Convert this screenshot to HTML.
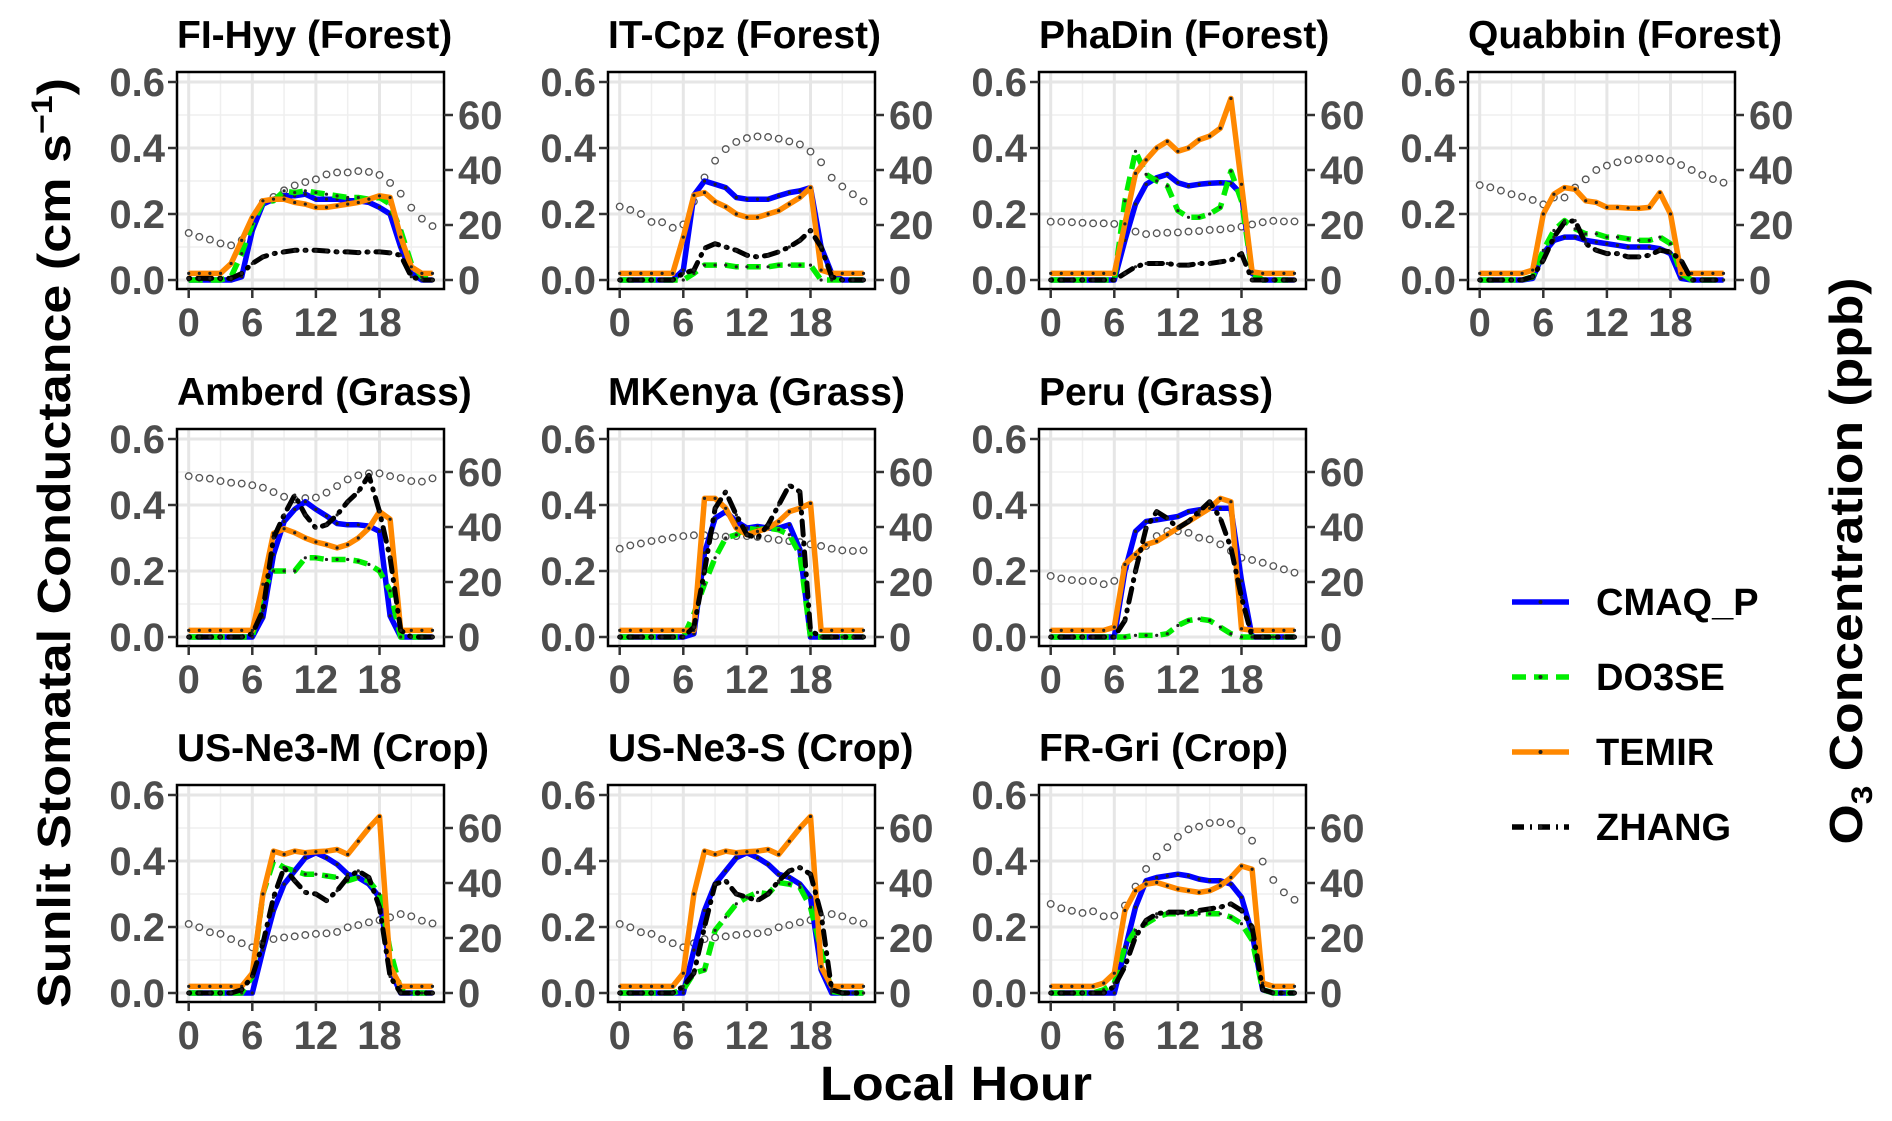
<!DOCTYPE html>
<html><head><meta charset="utf-8"><style>
html,body{margin:0;padding:0;background:#fff;}
svg{display:block;font-family:"Liberation Sans",Arial,sans-serif;}
</style></head><body>
<svg id="chart" width="1892" height="1121" viewBox="0 0 1892 1121" xmlns="http://www.w3.org/2000/svg">
<text transform="translate(70,543) rotate(-90)" text-anchor="middle" font-size="46" font-weight="bold" fill="#000" textLength="930" lengthAdjust="spacingAndGlyphs">Sunlit Stomatal Conductance (cm s<tspan dy="-18" font-size="30">−1</tspan><tspan dy="18">)</tspan></text>
<text transform="translate(1862,561) rotate(-90)" text-anchor="middle" font-size="46" font-weight="bold" fill="#000" textLength="567" lengthAdjust="spacingAndGlyphs">O<tspan dy="10" font-size="30">3</tspan><tspan dy="-10"> Concentration (ppb)</tspan></text>
<text x="956" y="1100" text-anchor="middle" font-size="48" font-weight="bold" fill="#000" textLength="272" lengthAdjust="spacingAndGlyphs">Local Hour</text>
</svg>
<script>
const panelTitles=["FI-Hyy (Forest)","IT-Cpz (Forest)","PhaDin (Forest)","Quabbin (Forest)","Amberd (Grass)","MKenya (Grass)","Peru (Grass)","US-Ne3-M (Crop)","US-Ne3-S (Crop)","FR-Gri (Crop)"];
const hours=[0,1,2,3,4,5,6,7,8,9,10,11,12,13,14,15,16,17,18,19,20,21,22,23];
const yTicks=[0,0.2,0.4,0.6];
const yTickLabels=["0.0","0.2","0.4","0.6"];
const y2Ticks=[0,20,40,60];
const xTicks=[0,6,12,18];
const seriesNames=["CMAQ_P","DO3SE","TEMIR","ZHANG"];
const cmaq=[
[0,0,0,0,0,0.01,0.15,0.23,0.245,0.255,0.255,0.26,0.245,0.245,0.245,0.24,0.24,0.235,0.22,0.2,0.1,0.02,0,0],
[0,0,0,0,0,0,0.03,0.257,0.3,0.29,0.28,0.25,0.245,0.245,0.245,0.255,0.265,0.27,0.28,0.1,0.02,0,0,0],
[0,0,0,0,0,0,0,0.12,0.23,0.29,0.31,0.32,0.295,0.285,0.29,0.293,0.295,0.293,0.26,0.02,0,0,0,0],
[0,0,0,0,0,0.005,0.08,0.12,0.13,0.13,0.12,0.115,0.11,0.105,0.1,0.1,0.1,0.095,0.08,0.005,0,0,0,0],
[0,0,0,0,0,0,0,0.06,0.25,0.35,0.387,0.41,0.387,0.367,0.344,0.34,0.34,0.336,0.32,0.064,0,0,0,0],
[0,0,0,0,0,0,0,0.01,0.255,0.36,0.38,0.35,0.33,0.335,0.33,0.33,0.34,0.265,0,0,0,0,0,0],
[0,0,0,0,0,0,0,0.2,0.32,0.35,0.355,0.36,0.365,0.38,0.385,0.39,0.39,0.39,0.17,0,0,0,0,0],
[0,0,0,0,0,0,0,0.13,0.25,0.33,0.37,0.41,0.425,0.41,0.39,0.36,0.35,0.33,0.29,0.07,0,0,0,0],
[0,0,0,0,0,0,0,0.13,0.25,0.33,0.37,0.41,0.425,0.41,0.39,0.36,0.35,0.33,0.29,0.07,0,0,0,0],
[0,0,0,0,0,0,0,0.13,0.26,0.34,0.35,0.355,0.36,0.355,0.345,0.34,0.34,0.33,0.29,0.18,0.01,0,0,0]];
const do3se=[
[0,0,0,0,0.01,0.08,0.17,0.235,0.24,0.27,0.265,0.27,0.265,0.26,0.255,0.25,0.25,0.245,0.25,0.23,0.15,0.05,0.01,0],
[0,0,0,0,0,0,0,0.02,0.045,0.045,0.045,0.04,0.04,0.04,0.04,0.045,0.045,0.045,0.045,0,0,0,0,0],
[0,0,0,0,0,0,0,0.24,0.39,0.32,0.3,0.285,0.21,0.19,0.19,0.2,0.22,0.33,0.24,0.02,0,0,0,0],
[0,0,0,0,0,0.01,0.09,0.15,0.18,0.155,0.14,0.14,0.13,0.13,0.125,0.12,0.12,0.13,0.11,0.02,0,0,0,0],
[0,0,0,0,0,0,0,0.14,0.2,0.2,0.2,0.24,0.24,0.235,0.235,0.235,0.23,0.22,0.2,0.14,0,0,0,0],
[0,0,0,0,0,0,0,0.07,0.16,0.24,0.3,0.31,0.33,0.325,0.33,0.325,0.31,0.25,0,0,0,0,0,0],
[0,0,0,0,0,0,0,0,0.005,0.005,0.005,0.01,0.035,0.05,0.055,0.05,0.03,0.01,0,0,0,0,0,0],
[0,0,0,0,0,0,0.05,0.3,0.4,0.38,0.37,0.36,0.36,0.355,0.35,0.34,0.35,0.34,0.3,0.13,0.01,0,0,0],
[0,0,0,0,0,0,0.01,0.06,0.07,0.19,0.23,0.27,0.29,0.305,0.3,0.335,0.33,0.32,0.26,0.13,0.005,0,0,0],
[0,0,0,0,0,0.01,0.03,0.14,0.19,0.21,0.23,0.24,0.24,0.24,0.24,0.24,0.24,0.23,0.21,0.16,0.01,0,0,0]];
const temir=[
[0.02,0.02,0.02,0.02,0.05,0.12,0.19,0.24,0.245,0.245,0.235,0.23,0.22,0.22,0.225,0.23,0.235,0.245,0.255,0.25,0.13,0.04,0.02,0.02],
[0.02,0.02,0.02,0.02,0.02,0.02,0.13,0.257,0.265,0.237,0.222,0.2,0.19,0.19,0.2,0.21,0.23,0.25,0.28,0.03,0.02,0.02,0.02,0.02],
[0.02,0.02,0.02,0.02,0.02,0.02,0.02,0.17,0.323,0.364,0.4,0.42,0.39,0.4,0.425,0.436,0.46,0.55,0.29,0.025,0.02,0.02,0.02,0.02],
[0.02,0.02,0.02,0.02,0.02,0.03,0.2,0.26,0.28,0.275,0.24,0.235,0.22,0.22,0.218,0.217,0.22,0.265,0.2,0.02,0.02,0.02,0.02,0.02],
[0.02,0.02,0.02,0.02,0.02,0.02,0.02,0.16,0.314,0.328,0.316,0.3,0.288,0.28,0.27,0.28,0.3,0.33,0.38,0.357,0.02,0.02,0.02,0.02],
[0.02,0.02,0.02,0.02,0.02,0.02,0.02,0.02,0.42,0.42,0.39,0.33,0.31,0.32,0.33,0.35,0.38,0.39,0.405,0.02,0.02,0.02,0.02,0.02],
[0.02,0.02,0.02,0.02,0.02,0.02,0.03,0.22,0.25,0.28,0.29,0.31,0.33,0.35,0.37,0.39,0.42,0.41,0.025,0.02,0.02,0.02,0.02,0.02],
[0.02,0.02,0.02,0.02,0.02,0.02,0.06,0.3,0.43,0.42,0.43,0.425,0.428,0.43,0.435,0.42,0.46,0.5,0.535,0.08,0.02,0.02,0.02,0.02],
[0.02,0.02,0.02,0.02,0.02,0.02,0.06,0.3,0.43,0.42,0.43,0.425,0.428,0.43,0.435,0.42,0.46,0.5,0.535,0.08,0.02,0.02,0.02,0.02],
[0.02,0.02,0.02,0.02,0.02,0.03,0.06,0.25,0.31,0.33,0.335,0.325,0.315,0.31,0.305,0.31,0.325,0.35,0.385,0.375,0.03,0.02,0.02,0.02]];
const zhang=[
[0.005,0.005,0.005,0.005,0.005,0.02,0.05,0.07,0.08,0.085,0.09,0.09,0.09,0.088,0.085,0.085,0.083,0.085,0.085,0.082,0.075,0.01,0,0],
[0,0,0,0,0,0,0.02,0.03,0.096,0.11,0.1,0.09,0.075,0.07,0.075,0.085,0.1,0.12,0.15,0.1,0.01,0,0,0],
[0,0,0,0,0,0,0,0.02,0.04,0.05,0.05,0.05,0.045,0.045,0.05,0.05,0.055,0.06,0.08,0,0,0,0,0],
[0,0,0,0,0,0.01,0.06,0.13,0.175,0.18,0.11,0.09,0.08,0.08,0.07,0.07,0.075,0.09,0.085,0.06,0,0,0,0],
[0,0,0,0,0,0,0.01,0.08,0.3,0.37,0.43,0.37,0.33,0.34,0.37,0.41,0.44,0.49,0.38,0.24,0.02,0,0,0],
[0,0,0,0,0,0,0,0.03,0.2,0.39,0.44,0.37,0.31,0.3,0.34,0.4,0.46,0.44,0.02,0,0,0,0,0],
[0,0,0,0,0,0,0,0.05,0.2,0.33,0.38,0.36,0.33,0.35,0.38,0.41,0.36,0.27,0.12,0,0,0,0,0],
[0,0,0,0,0,0.01,0.05,0.15,0.29,0.38,0.34,0.305,0.3,0.28,0.31,0.35,0.37,0.35,0.26,0.05,0,0,0,0],
[0,0,0,0,0,0,0.02,0.06,0.2,0.33,0.34,0.3,0.29,0.28,0.3,0.34,0.37,0.38,0.36,0.24,0.01,0,0,0],
[0,0,0,0,0,0,0.02,0.08,0.17,0.22,0.24,0.245,0.245,0.245,0.25,0.255,0.26,0.27,0.25,0.2,0.01,0,0,0]];
const o3=[
[17.1,15.7,14.7,13.3,12.6,14.5,20.3,28.4,30.2,32.6,34.4,35.6,36.6,38.4,39.1,39.1,39.6,39.3,38.2,35.3,31.4,26.3,22.3,19.6],
[26.7,25.5,24,21.1,21,19,20.2,28.5,37.3,43.4,47.6,50.2,51.6,52.2,52,51.4,50.4,49.3,46.7,42.8,37.2,34,31.2,28.6],
[21.2,21.2,21,20.8,20.6,20.6,20.4,19.4,17.6,16.7,17,17.2,17.3,17.6,17.8,18.2,18.4,18.8,19.4,20.2,21,21.5,21.3,21.3],
[34.5,33.7,32.5,31.2,30.3,29.1,27.5,30,30,33.6,36.6,40,41.6,42.8,43.6,44,44.2,44,43.3,41.8,40,38.2,36.7,35.4],
[58.5,57.9,57.6,56.7,56.1,55.8,55.2,54.3,52.7,51,50,50.5,50.7,52.5,54.9,57.3,58.8,59.5,59.5,58.5,57.8,56.7,56.5,57.7],
[32.1,33.3,34,34.9,35.5,36.1,36.7,37,37,36.7,36.5,36.7,36.7,36.4,35.8,35.3,34.9,34.5,33.7,33.1,32.1,31.5,31.3,31.5],
[22.2,21.3,20.7,20.4,20.4,19.2,20.4,25.2,29.5,33.1,36.7,38.5,38.5,37.9,36.1,35.5,33.7,31.3,28.8,28,27,25.8,24.6,23.4],
[25.1,23.9,22.1,21.5,19.6,18.1,16.6,18.1,19.6,20.2,20.6,21.1,21.5,21.7,22.2,23.9,24.7,25.7,26.5,27.5,28.7,27.9,26.3,25.3],
[25.1,23.9,22.1,21.5,19.6,18.1,16.6,18.1,19.6,20.2,20.6,21.1,21.5,21.7,22.2,23.9,24.7,25.7,26.5,27.5,28.7,27.9,26.3,25.3],
[32.4,30.8,29.9,29.1,29.7,27.9,28.1,31.8,38.7,45.1,49.6,53,56.8,59.5,60.5,61.8,62.1,61.5,59,55.4,47.8,41.1,36.6,33.9]];

const NS="http://www.w3.org/2000/svg";
const svg=document.getElementById('chart');
const colLeft=[177,608,1039,1468], rowTop=[72,429,785];
const PW=267, PH=217;
const styles=[
 {c:"#0000ff",d:null},
 {c:"#00ee00",d:"14 8"},
 {c:"#ff8800",d:null},
 {c:"#000000",d:"1 8 14 8"}];
const seriesData=[cmaq,do3se,temir,zhang];
function mk(tag,attrs,parent){const e=document.createElementNS(NS,tag);for(const k in attrs)e.setAttribute(k,attrs[k]);(parent||svg).appendChild(e);return e;}

panelTitles.forEach((title,p)=>{
 const L=colLeft[p<4?p:(p<7?p-4:p-7)], T=rowTop[p<4?0:(p<7?1:2)];
 const xs=h=>L+11.7+h*10.6;
 const y0=T+208;
 const ys=v=>y0-v*330;
 const ys2=v=>y0-(v/120)*330;
 const g=mk('g',{});
 
 
 const t=mk('text',{x:L,y:T-24,'font-size':39,'font-weight':'bold',fill:'#000'},g);
 
 
 t.textContent=title;
 mk('rect',{x:L,y:T,width:PW,height:PH,fill:'#fff'},g);
 [0.1,0.3,0.5].forEach(v=>mk('line',{x1:L,x2:L+PW,y1:ys(v),y2:ys(v),stroke:'#efefef','stroke-width':1.5},g));
 [3,9,15,21].forEach(h=>mk('line',{x1:xs(h),x2:xs(h),y1:T,y2:T+PH,stroke:'#efefef','stroke-width':1.5},g));
 yTicks.forEach(v=>mk('line',{x1:L,x2:L+PW,y1:ys(v),y2:ys(v),stroke:'#e6e6e6','stroke-width':3},g));
 xTicks.forEach(h=>mk('line',{x1:xs(h),x2:xs(h),y1:T,y2:T+PH,stroke:'#e6e6e6','stroke-width':3},g));
 o3[p].forEach((v,i)=>{const c=mk('circle',{cx:xs(hours[i]),cy:ys2(v),r:3.3,fill:'#fff',stroke:'#555','stroke-width':1.3},g);
  
  });
 seriesData.forEach((arr,s)=>{
  const pts=arr[p].map((v,i)=>xs(hours[i]).toFixed(1)+','+ys(v).toFixed(1)).join(' ');
  const a={points:pts,fill:'none',stroke:styles[s].c,'stroke-width':5.5,'stroke-linejoin':'round'};
  if(styles[s].d){a['stroke-dasharray']=styles[s].d;}
  if(s===3){a['stroke-linecap']='round';a['stroke-width']=5;}
  const pl=mk('polyline',a,g);
  
  
  arr[p].forEach((v,i)=>{mk('circle',{cx:xs(hours[i]),cy:ys(v),r:1.6,fill:'#222'},g);});
 });
 mk('rect',{x:L,y:T,width:PW,height:PH,fill:'none',stroke:'#000','stroke-width':2.5},g);
 yTicks.forEach((v,i)=>{mk('line',{x1:L-9,x2:L,y1:ys(v),y2:ys(v),stroke:'#333','stroke-width':2.5},g);
  const tl=mk('text',{x:L-12,y:ys(v)+14,'text-anchor':'end','font-size':40,'font-weight':'bold',fill:'#4d4d4d'},g);
  
  
  tl.textContent=yTickLabels[i];});
 y2Ticks.forEach(v=>{mk('line',{x1:L+PW,x2:L+PW+9,y1:ys2(v),y2:ys2(v),stroke:'#333','stroke-width':2.5},g);
  const tl=mk('text',{x:L+PW+14,y:ys2(v)+14,'font-size':40,'font-weight':'bold',fill:'#4d4d4d'},g);
  
  
  tl.textContent=v;});
 xTicks.forEach(h=>{mk('line',{x1:xs(h),x2:xs(h),y1:T+PH,y2:T+PH+9,stroke:'#333','stroke-width':2.5},g);
  const tl=mk('text',{x:xs(h),y:T+PH+47,'text-anchor':'middle','font-size':40,'font-weight':'bold',fill:'#4d4d4d'},g);
  
  
  tl.textContent=h;});
});
const legY=[602,677,752,827];
seriesNames.forEach((n,s)=>{
 const g=mk('g',{});
 
 
 const a={x1:1512,x2:1569,y1:legY[s],y2:legY[s],stroke:styles[s].c,'stroke-width':5.5};
 if(styles[s].d)a['stroke-dasharray']=s===1?"14 8":"12 6 2 6";
 mk('line',a,g);
 mk('circle',{cx:1540.5,cy:legY[s],r:2,fill:'#222'},g);
 const t=mk('text',{x:1596,y:legY[s]+13,'font-size':38,'font-weight':'bold',fill:'#000'},g);
 t.textContent=n;
});
</script>
</body></html>
